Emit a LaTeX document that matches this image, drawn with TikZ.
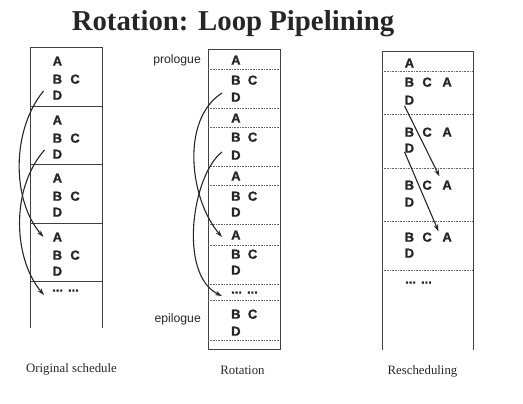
\documentclass[tikz,border=0pt]{standalone}
\usepackage{fontspec}
\setmainfont{Liberation Serif}
\newfontfamily\arialfont{Liberation Sans}
\newfontfamily\arialbold{Liberation Sans Bold}[FakeBold=1.4]
\usetikzlibrary{arrows.meta}
\begin{document}
\begin{tikzpicture}[x=1pt,y=-1pt,
 cell/.style={font=\arialbold\fontsize{13}{13}\selectfont, inner sep=0pt, text height=9.3pt, text depth=0pt, anchor=west, text=black!85},
 side/.style={font=\arialfont\fontsize{12.2}{13}\selectfont, inner sep=0pt, anchor=base east, text=black!85},
 colline/.style={draw=black!75, line width=0.8pt},
 divsolid/.style={draw=black!75, line width=0.8pt},
 divdot/.style={draw=black!60, line width=0.6pt, dash pattern=on 1pt off 0.6pt},
 arr/.style={draw=black!85, line width=1.1pt, -{Stealth[length=7pt,width=4.5pt]}},
 lbl/.style={font=\fontsize{12.8}{14}\selectfont, anchor=base, inner sep=0pt, text=black!85},
]
\useasboundingbox (0,0) rectangle (523,404);
% title
\node[font=\bfseries\fontsize{28.8}{30}\selectfont, anchor=base, inner sep=0pt, text=black!85] (title) at (233,31) {Rotation: Loop Pipelining};

% ---------- left column: original schedule
\draw[colline] (30,328) -- (30,47) -- (102,47) -- (102,328);
\foreach \yy in {106,164,223,281} \draw[divsolid] (30,\yy) -- (102,\yy);
\foreach \t [count=\i] in {47,106,164,223} {
  \node[cell] (LA\i) at (52.5,{\t+14}) {A};
  \node[cell] (LB\i) at (52.5,{\t+32}) {B\hspace{8.3pt}C};
  \node[cell] (LD\i) at (52.5,{\t+48}) {D};
}
\node[cell] (Ldots) at (52,287) {...\hspace{5pt}...};
\draw[arr] ([xshift=-9pt,yshift=4pt]LD1.west) .. controls +(-32,39) and +(-32,-37) .. ([xshift=-9pt]LA4.west);
\draw[arr] ([xshift=-8pt,yshift=4pt]LD2.west) .. controls +(-35,40) and +(-30,-35) .. ([xshift=-8pt,yshift=-8pt]Ldots.west);

% ---------- middle column: rotation
\draw[colline] (208,49) rectangle (280,349);
\foreach \yy in {69,108,127,166,185,224,245,284,300,340} \draw[divdot] (208,\yy) -- (280,\yy);
\node[cell] (MA1) at (231,60) {A};
\node[cell] (MB1) at (231,80) {B\hspace{7.3pt}C};
\node[cell] (MD1) at (231,97) {D};
\node[cell] (MA2) at (231,118) {A};
\node[cell] (MB2) at (231,137) {B\hspace{7.3pt}C};
\node[cell] (MD2) at (231,155) {D};
\node[cell] (MA3) at (231,176) {A};
\node[cell] (MB3) at (231,196) {B\hspace{7.3pt}C};
\node[cell] (MD3) at (231,212) {D};
\node[cell] (MA4) at (231,235) {A};
\node[cell] (MB4) at (231,254) {B\hspace{7.3pt}C};
\node[cell] (MD4) at (231,270) {D};
\node[cell] (Mdots) at (231,289) {...\hspace{5pt}...};
\node[cell] (MB5) at (231,314) {B\hspace{7.3pt}C};
\node[cell] (MD5) at (231,331) {D};
\node[side] (prologue) at (201,64) {prologue};
\node[side] (epilogue) at (201,322) {epilogue};
\draw[arr] ([xshift=-9pt,yshift=4pt]MD1.west) .. controls +(-42,27) and +(-32,-37) .. ([xshift=-9pt,yshift=-2pt]MA4.west);
\draw[arr] ([xshift=-9pt,yshift=3pt]MD2.west) .. controls +(-30,23) and +(-44,-21) .. ([xshift=-9pt,yshift=-7pt]Mdots.west);

% ---------- right column: rescheduling
\draw[colline] (382,350) -- (382,51) -- (473,51) -- (473,350);
\foreach \yy in {71,114,168,221,270} \draw[divdot] (382,\yy) -- (473,\yy);
\node[cell] (RA0) at (404.5,63) {A};
\foreach \b/\d [count=\i] in {82/100,132/148,185/202,237/253} {
  \node[cell] (RB\i) at (404.5,\b) {B\hspace{8.3pt}C};
  \node[cell] (RA\i) at (442.2,\b) {A};
  \node[cell] (RD\i) at (404.5,\d) {D};
}
\node[cell] (Rdots) at (405,279) {...\hspace{5pt}...};
\draw[arr] ([yshift=-1pt]RD1.south west) -- ([xshift=-2.7pt,yshift=3.7pt]RA3.north west);
\draw[arr] ([yshift=1pt]RD2.south west) -- ([xshift=-3.7pt,yshift=0.7pt]RA4.north west);

% ---------- captions
\node[lbl] (cap1) at (71.5,372) {Original schedule};
\node[lbl] (cap2) at (242.5,374) {Rotation};
\node[lbl] (cap3) at (422.5,374) {Rescheduling};
\end{tikzpicture}
\end{document}
